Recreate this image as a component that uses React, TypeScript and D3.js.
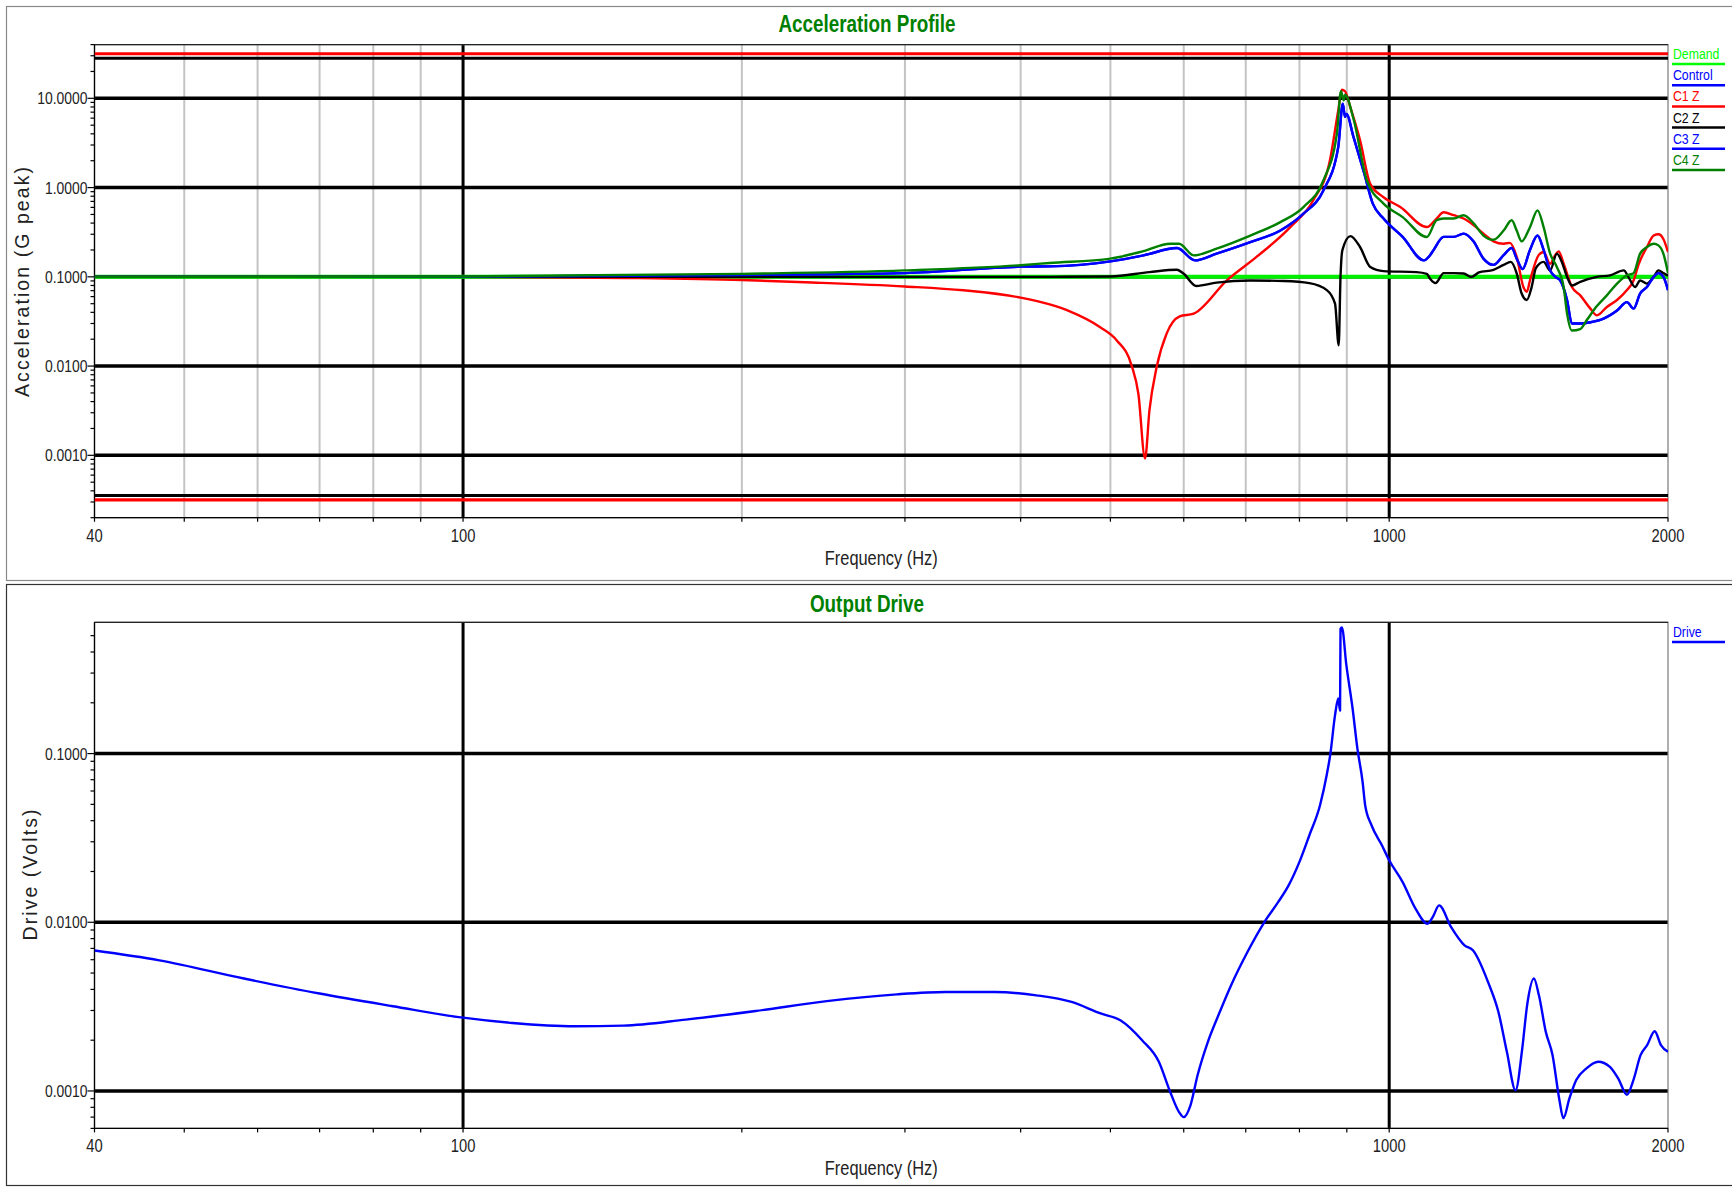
import { useEffect, useRef } from "react";
import * as d3 from "d3";

const W = 1732;
const H = 1188;
const SANS = "'Liberation Sans', Arial, sans-serif";
const NARROW_SCALE = 0.82; // Arial Narrow look from Liberation Sans

// tick values
const xLabels = [40, 100, 1000, 2000];
const xMajorGrid = [100, 1000];
const xMinorGrid = [50, 60, 70, 80, 90, 200, 300, 400, 500, 600, 700, 800, 900];
const accTicks = [10, 1, 0.1, 0.01, 0.001];
const driveTicks = [0.1, 0.01, 0.001];

// limit lines (abort = red, alarm = black)
const abortLimits = [31.6, 0.000316];
const alarmLimits = [28.2, 0.000355];

const demandFreq = [40, 2000];
const demandVals = [0.1, 0.1];

const c1Freq = [40, 60, 80, 100, 150, 200, 234, 300, 347, 400, 430, 452, 487, 508, 527, 536, 545, 551, 561, 575, 594, 615, 668, 719, 782, 828, 863, 881, 889, 896, 908, 930, 954, 986, 1028, 1098, 1125, 1145, 1174, 1203, 1233, 1264, 1296, 1329, 1350, 1373, 1396, 1408, 1419, 1450, 1468, 1492, 1511, 1524, 1543, 1575, 1608, 1649, 1676, 1718, 1762, 1806, 1836, 1860, 1898, 1930, 1953, 1977, 2000];
const c1Vals = [0.1, 0.1, 0.1, 0.1, 0.097, 0.092, 0.087, 0.078, 0.0706, 0.0585, 0.049, 0.041, 0.0274, 0.0194, 0.0102, 0.0049, 0.00092, 0.0032, 0.0098, 0.0231, 0.036, 0.0387, 0.0914, 0.167, 0.361, 0.72, 2.02, 7.3, 12.5, 12, 7.9, 3.4, 1.1, 0.78, 0.605, 0.361, 0.45, 0.53, 0.49, 0.45, 0.38, 0.305, 0.25, 0.235, 0.24, 0.167, 0.077, 0.068, 0.091, 0.175, 0.19, 0.14, 0.175, 0.193, 0.14, 0.077, 0.062, 0.044, 0.037, 0.046, 0.055, 0.071, 0.091, 0.14, 0.216, 0.29, 0.3, 0.265, 0.19];

const c2Freq = [40, 100, 300, 430, 500, 551, 590, 600, 619, 651, 708, 770, 820, 857, 874, 882, 886, 890, 908, 930, 954, 986, 1070, 1098, 1107, 1122, 1145, 1174, 1203, 1227, 1250, 1296, 1329, 1353, 1373, 1390, 1408, 1425, 1440, 1468, 1492, 1517, 1536, 1556, 1575, 1608, 1676, 1732, 1792, 1812, 1843, 1866, 1898, 1930, 1953, 1977, 2000];
const c2Vals = [0.1, 0.1, 0.1, 0.1, 0.101, 0.113, 0.12, 0.108, 0.079, 0.086, 0.091, 0.0897, 0.085, 0.0706, 0.05, 0.0171, 0.1, 0.198, 0.286, 0.216, 0.129, 0.116, 0.113, 0.108, 0.095, 0.085, 0.11, 0.11, 0.109, 0.1, 0.112, 0.12, 0.136, 0.147, 0.109, 0.065, 0.055, 0.077, 0.125, 0.147, 0.118, 0.182, 0.147, 0.1, 0.08, 0.088, 0.1, 0.104, 0.118, 0.1, 0.077, 0.091, 0.084, 0.1, 0.118, 0.11, 0.103];

const c3Freq = [40, 100, 200, 300, 400, 430, 500, 543, 590, 617, 651, 708, 763, 808, 849, 881, 891, 896, 899, 915, 940, 960, 986, 1034, 1090, 1107, 1116, 1145, 1174, 1203, 1233, 1264, 1296, 1329, 1356, 1373, 1393, 1419, 1446, 1468, 1492, 1511, 1530, 1556, 1575, 1608, 1649, 1704, 1762, 1806, 1836, 1866, 1898, 1930, 1953, 1977, 2000];
const c3Vals = [0.1, 0.1, 0.105, 0.11, 0.13, 0.131, 0.149, 0.174, 0.21, 0.153, 0.182, 0.245, 0.33, 0.51, 0.93, 2.84, 8.7, 6.2, 6.7, 3.7, 1.43, 0.66, 0.45, 0.28, 0.153, 0.175, 0.198, 0.28, 0.28, 0.305, 0.25, 0.16, 0.136, 0.175, 0.21, 0.16, 0.122, 0.2, 0.29, 0.2, 0.118, 0.1, 0.091, 0.055, 0.03, 0.03, 0.031, 0.034, 0.042, 0.052, 0.044, 0.065, 0.077, 0.1, 0.11, 0.1, 0.071];

const c4Freq = [40, 100, 200, 300, 400, 430, 500, 543, 580, 593, 615, 651, 708, 763, 808, 849, 878, 887, 893, 896, 915, 946, 986, 1034, 1098, 1125, 1145, 1174, 1203, 1233, 1264, 1296, 1329, 1356, 1373, 1390, 1419, 1446, 1468, 1492, 1517, 1543, 1556, 1575, 1608, 1635, 1676, 1718, 1762, 1806, 1836, 1866, 1898, 1930, 1953, 1977, 2000];
const c4Vals = [0.1, 0.101, 0.108, 0.118, 0.135, 0.143, 0.16, 0.194, 0.235, 0.235, 0.174, 0.207, 0.29, 0.41, 0.605, 1.2, 4.0, 12, 9.5, 11, 5.9, 1.2, 0.66, 0.467, 0.279, 0.43, 0.45, 0.45, 0.49, 0.4, 0.29, 0.26, 0.33, 0.43, 0.33, 0.25, 0.36, 0.556, 0.36, 0.182, 0.129, 0.077, 0.039, 0.025, 0.026, 0.033, 0.047, 0.062, 0.084, 0.104, 0.11, 0.182, 0.216, 0.235, 0.225, 0.182, 0.11];

// control channel follows C3 (drawn underneath it)
const controlFreq = c3Freq;
const controlVals = c3Vals;

const driveFreq = [40, 47, 58, 70, 84, 100, 113, 132, 149, 174, 207, 247, 294, 332, 375, 416, 454, 488, 513, 541, 564, 580, 593, 600, 610, 621, 637, 654, 675, 703, 733, 759, 779, 800, 820, 842, 856, 864, 874, 881, 885, 886, 889, 899, 913, 924, 936, 942, 957, 982, 1000, 1034, 1068, 1100, 1115, 1132, 1166, 1206, 1232, 1279, 1312, 1340, 1369, 1392, 1409, 1433, 1451, 1476, 1501, 1526, 1542, 1565, 1592, 1633, 1681, 1731, 1768, 1806, 1837, 1868, 1899, 1935, 1965, 2000];
const driveVals = [0.0068, 0.00595, 0.00464, 0.00378, 0.00318, 0.00272, 0.00253, 0.00242, 0.00244, 0.00265, 0.00298, 0.00341, 0.00374, 0.00386, 0.00386, 0.00369, 0.00337, 0.00288, 0.00262, 0.002, 0.00149, 0.00099, 0.00075, 0.0007, 0.00082, 0.00124, 0.00195, 0.00281, 0.00424, 0.00667, 0.01, 0.0132, 0.0166, 0.0228, 0.0328, 0.0494, 0.0743, 0.1, 0.169, 0.212, 0.18, 0.55, 0.56, 0.334, 0.185, 0.107, 0.068, 0.0494, 0.0376, 0.0286, 0.0233, 0.0173, 0.012, 0.0098, 0.0108, 0.0126, 0.0094, 0.0073, 0.0068, 0.0044, 0.00294, 0.0017, 0.00101, 0.00178, 0.00322, 0.00464, 0.00369, 0.00224, 0.00163, 0.0009, 0.00069, 0.0009, 0.00116, 0.00136, 0.00149, 0.00139, 0.00118, 0.00095, 0.00118, 0.00163, 0.00187, 0.00226, 0.00187, 0.00171];

const PLOT_LEFT = 94.5;
const PLOT_RIGHT = 1668;

// condensed text: Liberation Sans squeezed horizontally
function narrow(parent, x, y, str, size, opts: any = {}) {
  return parent.append("text")
    .attr("transform", `translate(${x},${y}) scale(${NARROW_SCALE},1)`)
    .attr("text-anchor", opts.anchor || "start")
    .attr("dy", opts.dy || null)
    .attr("font-family", SANS)
    .attr("font-weight", opts.bold ? "bold" : "normal")
    .attr("font-size", size)
    .attr("fill", opts.fill || "#222")
    .text(str);
}

function drawPanel(root, cfg) {
  const g = root.append("g");
  // panel frame
  g.append("rect")
    .attr("x", 6.5).attr("y", cfg.panelTop + 0.5)
    .attr("width", 1740).attr("height", cfg.panelBottom - cfg.panelTop)
    .attr("fill", "white").attr("stroke", cfg.frameColor).attr("stroke-width", 1.2);

  const x = d3.scaleLog().domain([40, 2000]).range([PLOT_LEFT, PLOT_RIGHT]);
  const y = d3.scaleLog().domain(cfg.yDomain).range([cfg.plotBottom, cfg.plotTop]);

  const clipId = "clip-" + cfg.key;
  g.append("clipPath").attr("id", clipId).append("rect")
    .attr("x", PLOT_LEFT).attr("y", cfg.plotTop)
    .attr("width", PLOT_RIGHT - PLOT_LEFT).attr("height", cfg.plotBottom - cfg.plotTop);

  // title
  narrow(g, 867, cfg.titleY, cfg.title, 23, { anchor: "middle", bold: true, fill: "#008000" });

  // minor vertical grid
  if (cfg.minorGrid) {
    g.selectAll(".vminor").data(xMinorGrid).join("line")
      .attr("x1", (d) => x(d)).attr("x2", (d) => x(d))
      .attr("y1", cfg.plotTop).attr("y2", cfg.plotBottom)
      .attr("stroke", "#c4c4c4").attr("stroke-width", 2);
  }

  // horizontal major grid
  g.selectAll(".hmajor").data(cfg.yTicks).join("line")
    .attr("x1", PLOT_LEFT).attr("x2", PLOT_RIGHT)
    .attr("y1", (d) => y(d)).attr("y2", (d) => y(d))
    .attr("stroke", "black").attr("stroke-width", 3.5);

  // vertical major grid
  g.selectAll(".vmajor").data(xMajorGrid).join("line")
    .attr("x1", (d) => x(d)).attr("x2", (d) => x(d))
    .attr("y1", cfg.plotTop).attr("y2", cfg.plotBottom)
    .attr("stroke", "black").attr("stroke-width", 3);

  // plot frame
  g.append("rect")
    .attr("x", PLOT_LEFT).attr("y", cfg.plotTop)
    .attr("width", PLOT_RIGHT - PLOT_LEFT).attr("height", cfg.plotBottom - cfg.plotTop)
    .attr("fill", "none").attr("stroke", "#7a7a7a").attr("stroke-width", 1.2);
  g.append("line")
    .attr("x1", PLOT_LEFT).attr("x2", PLOT_RIGHT)
    .attr("y1", cfg.plotTop).attr("y2", cfg.plotTop)
    .attr("stroke", "#222").attr("stroke-width", 1.3);
  g.append("line")
    .attr("x1", PLOT_LEFT).attr("x2", PLOT_RIGHT)
    .attr("y1", cfg.plotBottom).attr("y2", cfg.plotBottom)
    .attr("stroke", "black").attr("stroke-width", 1.3);
  g.append("line")
    .attr("x1", PLOT_LEFT).attr("x2", PLOT_LEFT)
    .attr("y1", cfg.plotTop).attr("y2", cfg.plotBottom)
    .attr("stroke", "black").attr("stroke-width", 1.3);

  // y ticks (major + minor)
  const [ylo, yhi] = cfg.yDomain;
  const minorY = [];
  for (let e = Math.floor(Math.log10(ylo)); e <= Math.ceil(Math.log10(yhi)); e++) {
    for (let m = 1; m <= 9; m++) {
      const v = m * Math.pow(10, e);
      if (v >= ylo && v <= yhi) minorY.push(v);
    }
  }
  g.selectAll(".ytick").data(minorY).join("line")
    .attr("x1", (d) => (cfg.yTicks.some((t) => Math.abs(t - d) / d < 1e-6) ? PLOT_LEFT - 7 : PLOT_LEFT - 4))
    .attr("x2", PLOT_LEFT)
    .attr("y1", (d) => y(d)).attr("y2", (d) => y(d))
    .attr("stroke", "black").attr("stroke-width", 1.2);

  cfg.yTicks.forEach((t) => {
    narrow(g, PLOT_LEFT - 7, y(t), t.toFixed(4), 17, { anchor: "end", dy: "0.35em" });
  });

  // x ticks
  g.selectAll(".xtick").data([40, ...xMinorGrid, ...xMajorGrid, 2000]).join("line")
    .attr("x1", (d) => x(d)).attr("x2", (d) => x(d))
    .attr("y1", cfg.plotBottom).attr("y2", cfg.plotBottom + 4)
    .attr("stroke", "black").attr("stroke-width", 1.2);

  xLabels.forEach((t) => {
    narrow(g, x(t), cfg.plotBottom + 24, String(t), 18, { anchor: "middle" });
  });

  narrow(g, (PLOT_LEFT + PLOT_RIGHT) / 2, cfg.plotBottom + 47, "Frequency (Hz)", 20, { anchor: "middle" });

  // y axis title
  g.append("text")
    .attr("transform", `translate(${cfg.yLabelX},${cfg.yLabelY}) rotate(-90)`)
    .attr("text-anchor", "middle").attr("dy", "0.35em")
    .attr("font-family", SANS).attr("font-size", 19.5).attr("fill", "#222")
    .attr("textLength", cfg.yLabelLen).attr("lengthAdjust", "spacing")
    .text(cfg.yLabel);

  const plot = g.append("g").attr("clip-path", `url(#${clipId})`);

  (cfg.hLines || []).forEach((h) => {
    plot.append("line")
      .attr("x1", PLOT_LEFT).attr("x2", PLOT_RIGHT)
      .attr("y1", y(h.v)).attr("y2", y(h.v))
      .attr("stroke", h.color).attr("stroke-width", h.width);
  });

  const line = d3.line()
    .x((d) => x(d[0]))
    .y((d) => y(d[1]))
    .curve(d3.curveMonotoneX);

  cfg.series.forEach((s) => {
    plot.append("path")
      .datum(d3.zip(s.freq, s.vals))
      .attr("d", line)
      .attr("fill", "none")
      .attr("stroke", s.color)
      .attr("stroke-width", s.width || 2.4)
      .attr("stroke-linejoin", "round");
  });

  // legend
  cfg.legend.forEach((s, i) => {
    const ly = cfg.legendTop + i * 21.2;
    narrow(g, 1673, ly, s.name, 15, { fill: s.color });
    g.append("line")
      .attr("x1", 1672).attr("x2", 1725)
      .attr("y1", ly + 5).attr("y2", ly + 5)
      .attr("stroke", s.color).attr("stroke-width", 2.5);
  });
}

export default function App() {
  const ref = useRef(null);

  useEffect(() => {
    const svg = d3.select(ref.current);
    svg.selectAll("*").remove();
    svg.append("rect").attr("width", W).attr("height", H).attr("fill", "white");

    const accSeries = [
      { name: "Demand", freq: demandFreq, vals: demandVals, color: "#00ee00", width: 4 },
      { name: "Control", freq: controlFreq, vals: controlVals, color: "#0000ff" },
      { name: "C1 Z", freq: c1Freq, vals: c1Vals, color: "#ff0000" },
      { name: "C2 Z", freq: c2Freq, vals: c2Vals, color: "#000000" },
      { name: "C3 Z", freq: c3Freq, vals: c3Vals, color: "#0000ff" },
      { name: "C4 Z", freq: c4Freq, vals: c4Vals, color: "#008000" },
    ];

    drawPanel(svg, {
      key: "acc",
      panelTop: 6,
      panelBottom: 580,
      frameColor: "#8a8a8a",
      plotTop: 44.6,
      plotBottom: 517.7,
      yDomain: [0.0002, 40],
      yTicks: accTicks,
      minorGrid: true,
      title: "Acceleration Profile",
      titleY: 32,
      yLabel: "Acceleration (G peak)",
      yLabelX: 22,
      yLabelY: 282,
      yLabelLen: 230,
      hLines: [
        { v: alarmLimits[0], color: "black", width: 3 },
        { v: alarmLimits[1], color: "black", width: 3 },
        { v: abortLimits[0], color: "#ff0000", width: 3.2 },
        { v: abortLimits[1], color: "#ff0000", width: 3.2 },
      ],
      series: accSeries,
      legend: accSeries.map((s) => ({ name: s.name, color: s.name === "Demand" ? "#00ff00" : s.color })),
      legendTop: 59,
    });

    const driveSeries = [{ name: "Drive", freq: driveFreq, vals: driveVals, color: "#0000ff" }];

    drawPanel(svg, {
      key: "drive",
      panelTop: 584,
      panelBottom: 1185,
      frameColor: "#333",
      plotTop: 622.3,
      plotBottom: 1128.4,
      yDomain: [0.0006, 0.6],
      yTicks: driveTicks,
      minorGrid: false,
      title: "Output Drive",
      titleY: 612,
      yLabel: "Drive (Volts)",
      yLabelX: 30,
      yLabelY: 875,
      yLabelLen: 131,
      series: driveSeries,
      legend: driveSeries,
      legendTop: 637,
    });
  }, []);

  return (
    <svg
      ref={ref}
      width={W}
      height={H}
      style={{ position: "absolute", left: 0, top: 0, display: "block" }}
    />
  );
}
